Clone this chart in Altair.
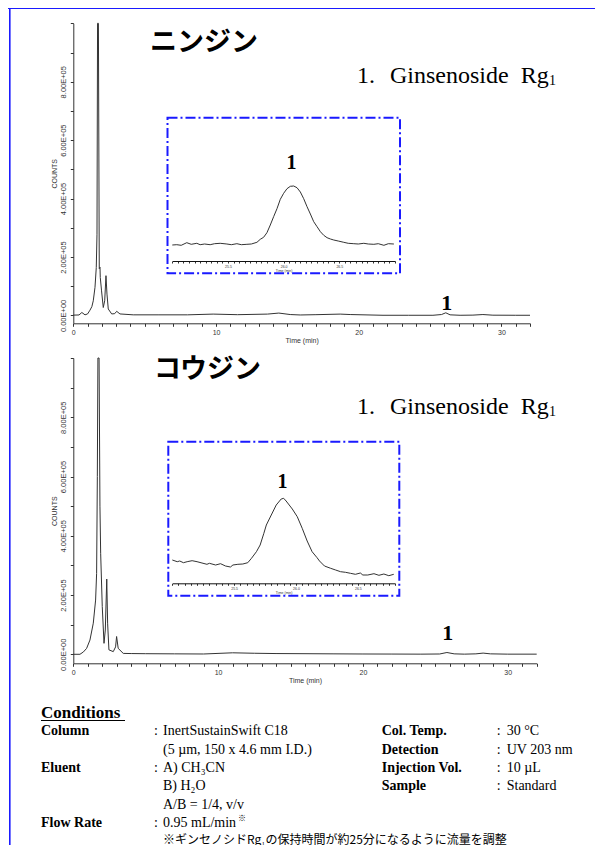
import altair as alt
import pandas as pd

# ---------------- data ----------------
# Chromatogram 1 : ニンジン  (time in min, counts)
top_time = [0.0, 0.4, 0.6, 0.82, 1.0, 1.17, 1.3, 1.4, 1.52, 1.61, 1.66, 1.70, 1.76, 1.82, 1.87,
            1.89, 1.98, 2.10, 2.20, 2.29, 2.36, 2.45, 2.69, 2.9, 3.04, 3.27, 4.2, 6.0, 8.0, 9.8,
            11.5, 13.6, 14.4, 15.2, 15.9, 17.0, 18.7, 19.4, 21.7, 23.5, 25.2, 25.8, 26.1, 26.4,
            27.1, 28.0, 28.7, 29.4, 31.0, 32.0]
top_counts = [1000, 1500, 10000, 2000, 5000, 18000, 30000, 50000, 96000, 164000, 278000, 1000000,
              1000000, 160000, 165000, 130000, 84000, 27000, 50000, 136000, 73000, 22000, 5000,
              6000, 14000, 5000, 2000, 2000, 2000, 4500, 2500, 4500, 8000, 3000, 1500, 2500, 4500,
              3000, 500, 500, 500, 3000, 9000, 2000, 500, 1000, 3000, 800, 500, 500]

# Inset 1 (zoom on peak 1, relative signal)
ins1_time = [25.00, 25.04, 25.08, 25.13, 25.17, 25.22, 25.25, 25.29, 25.34, 25.38, 25.43, 25.49,
             25.53, 25.58, 25.62, 25.67, 25.71, 25.76, 25.79, 25.82, 25.85, 25.88, 25.91, 25.94,
             25.97, 26.00, 26.03, 26.06, 26.09, 26.12, 26.15, 26.18, 26.21, 26.24, 26.27, 26.30,
             26.33, 26.36, 26.39, 26.42, 26.45, 26.49, 26.54, 26.58, 26.63, 26.67, 26.72, 26.76,
             26.81, 26.85, 26.90, 26.94, 26.99]
ins1_signal = [16.0, 16.3, 15.7, 18.3, 16.7, 17.7, 16.3, 17.0, 16.3, 17.3, 17.7, 17.0, 16.3, 17.3,
               16.3, 16.7, 17.0, 18.7, 21.7, 23.7, 28.3, 36.0, 44.3, 52.3, 61.7, 67.7, 72.3, 74.7,
               75.0, 73.3, 69.0, 62.3, 54.3, 47.0, 39.3, 34.3, 29.3, 25.7, 23.3, 22.0, 21.0, 20.0,
               18.7, 17.7, 17.3, 17.0, 17.7, 17.0, 16.7, 17.3, 15.7, 17.3, 17.0]

# Chromatogram 2 : コウジン
bot_time = [0.0, 0.46, 0.7, 0.92, 1.15, 1.38, 1.54, 1.61, 1.66, 1.70, 1.78, 1.84, 1.89, 2.0, 2.12,
            2.21, 2.31, 2.37, 2.46, 2.76, 2.92, 2.99, 3.1, 3.45, 4.0, 5.0, 7.0, 9.0, 11.0, 12.5,
            14.0, 16.0, 18.0, 20.0, 22.0, 24.0, 25.3, 25.8, 26.3, 27.0, 27.8, 28.3, 28.8, 30.0, 32.0]
bot_counts = [0, 0, 8000, 20000, 48000, 105000, 183000, 273000, 600000, 1000000, 1000000, 500000,
              341000, 161000, 37000, 82000, 254000, 105000, 15000, 9000, 25000, 60000, 20000, 3000,
              2500, 2000, 1500, 1000, 5000, 3500, 2500, 2000, 1500, 1000, 800, 500, 1000, 6000,
              1500, 500, 1500, 4000, 1500, 500, 500]

# Inset 2
ins2_time = [25.00, 25.04, 25.06, 25.09, 25.12, 25.16, 25.20, 25.24, 25.28, 25.30, 25.35, 25.39,
             25.43, 25.47, 25.49, 25.53, 25.57, 25.61, 25.64, 25.68, 25.71, 25.74, 25.76, 25.80,
             25.84, 25.88, 25.90, 25.92, 25.97, 26.01, 26.05, 26.09, 26.13, 26.17, 26.19, 26.23,
             26.28, 26.32, 26.36, 26.40, 26.44, 26.48, 26.52, 26.54, 26.58, 26.63, 26.67, 26.71,
             26.75, 26.79]
ins2_signal = [23.3, 21.6, 22.3, 20.6, 21.6, 22.6, 21.6, 20.3, 19.0, 20.0, 18.3, 19.6, 17.3, 16.3,
               18.3, 19.0, 19.3, 20.6, 25.0, 31.6, 38.3, 50.0, 58.3, 68.3, 78.3, 84.3, 85.0, 82.3,
               74.3, 66.6, 55.0, 42.3, 31.6, 25.6, 22.3, 17.3, 15.0, 13.3, 11.6, 11.0, 10.0, 9.0,
               10.3, 8.3, 8.3, 9.6, 8.0, 9.3, 7.6, 9.0]

# peak "1" labels (placed in data coordinates)
peak_text = ["1"]
top_peak_time, top_peak_counts = [26.17], [42500]
bot_peak_time, bot_peak_counts = [25.86], [70900]
ins1_peak_time, ins1_peak_signal = [26.07], [98]
ins2_peak_time, ins2_peak_signal = [25.89], [101.6]

# axis tick values / labels
main_x_ticks = list(range(0, 33))
main_y_ticks = [i * 100000 for i in range(11)]
ins1_ticks = [round(25.0 + 0.05 * i, 2) for i in range(41)]
ins2_ticks = [round(25.0 + 0.05 * i, 2) for i in range(37)]

# texts
titles = ["ニンジン", "コウジン"]
compound = ["1.", "Ginsenoside\u00a0\u00a0Rg", "1"]

cond_left_labels = ["Column", "Eluent", "Flow Rate"]
cond_left_label_rows = [0, 2, 5]
cond_left_values = ["InertSustainSwift C18", "(5 µm, 150 x 4.6 mm I.D.)", "A) CH₃CN",
                    "B) H₂O", "A/B = 1/4, v/v", "0.95 mL/min"]
cond_left_value_rows = [0, 1, 2, 3, 4, 5]
cond_right_labels = ["Col. Temp.", "Detection", "Injection Vol.", "Sample"]
cond_right_values = ["30 °C", "UV 203 nm", "10 µL", "Standard"]
cond_right_rows = [0, 1, 2, 3]
cond_note = "※ギンセノシドRg₁の保持時間が約25分になるように流量を調整"

# ---------------- styling / layout ----------------
W, H = 587, 837
SANS = "Liberation Sans"
SERIF = "Liberation Serif"
JP = "Noto Sans CJK JP"
INK = "#333333"
BLUE = "#1a1aff"
one = pd.DataFrame({"k": [0]})


def lin(domain, rng):
    return alt.Scale(type="linear", domain=domain, range=rng, nice=False, zero=False)


TOP_X = lin([0, 32], [65.3, 522])
TOP_Y = lin([-27000, 1000000], [315.3, 15.3])
BOT_X = lin([0, 32], [65.3, 528.7])
BOT_Y = lin([-30400, 1000000], [655.3, 350])
INS1_X = lin([25.0, 27.0], [164.3, 387])
INS1_Y = lin([0, 100], [253, 153])
INS2_X = lin([25.0, 26.8], [164.3, 387])
INS2_Y = lin([0, 100], [575.3, 475.3])
ROW_Y = lin([0, 6], [723.2, 833.2])


def main_x_axis(offset):
    return alt.Axis(orient="bottom", offset=offset, values=main_x_ticks,
                    labelExpr="datum.value % 10 == 0 ? datum.label : ''",
                    tickSize=3, tickColor=INK, domainColor=INK, grid=False,
                    labelFont=SANS, labelFontSize=7, labelColor=INK, labelPadding=2,
                    labelOverlap=False, labelFlush=False,
                    title="Time (min)", titleFont=SANS, titleFontSize=7,
                    titleFontWeight="normal", titleColor=INK, titlePadding=1)


def main_y_axis():
    return alt.Axis(orient="left", offset=-65.3, values=main_y_ticks,
                    labelExpr="datum.value < 1000000 && datum.value % 200000 == 0 ? "
                              "(datum.value == 0 ? '0.00E+00' : format(datum.value / 100000, '.2f') + 'E+05') : ''",
                    tickSize=3, tickColor=INK, domainColor=INK, grid=False,
                    labelFont=SANS, labelFontSize=7.5, labelColor=INK, labelPadding=3,
                    labelAngle=270, labelAlign="center", labelBaseline="bottom",
                    labelOverlap=False,
                    title="COUNTS", titleFont=SANS, titleFontSize=7,
                    titleFontWeight="normal", titleColor=INK, titlePadding=2)


def inset_x_axis(offset, ticks):
    return alt.Axis(orient="bottom", offset=offset, values=ticks,
                    labelExpr="indexof([25.5, 26, 26.5], datum.value) >= 0 ? format(datum.value, '.1f') : ''",
                    tickSize=2, tickColor=INK, domainColor="#111", grid=False,
                    labelFont=SANS, labelFontSize=3.5, labelColor=INK, labelPadding=1,
                    labelOverlap=False, labelFlush=False,
                    title="Time (min)", titleFont=SANS, titleFontSize=3.5,
                    titleFontWeight="normal", titleColor=INK, titlePadding=0.5)


def trace(t, v, xs, ys, xaxis, yaxis, width=1.0):
    df = pd.DataFrame({"t": t, "v": v})
    return alt.Chart(df).mark_line(color=INK, strokeWidth=width).encode(
        x=alt.X("t:Q", scale=xs, axis=xaxis),
        y=alt.Y("v:Q", scale=ys, axis=yaxis),
    )


def peak(t, v, xs, ys, size):
    df = pd.DataFrame({"t": t, "v": v, "lab": peak_text})
    return alt.Chart(df).mark_text(font=SERIF, fontWeight="bold", fontSize=size,
                                   color="black", baseline="middle").encode(
        x=alt.X("t:Q", scale=xs, axis=None),
        y=alt.Y("v:Q", scale=ys, axis=None),
        text="lab:N",
    )


def label(txt, x, y, **kw):
    return alt.Chart(one).mark_text(text=txt, align="left", baseline="middle",
                                    color="black", **kw).encode(x=alt.value(x), y=alt.value(y))


def box(x1, x2, y1, y2):
    return alt.Chart(one).mark_rect(fillOpacity=0, stroke=BLUE, strokeWidth=2,
                                    strokeDash=[10, 3, 2, 3]).encode(
        x=alt.value(x1), x2=alt.value(x2), y=alt.value(y1), y2=alt.value(y2))


def rows_text(texts, rows, x, **kw):
    df = pd.DataFrame({"txt": texts, "row": rows})
    return alt.Chart(df).mark_text(align="left", baseline="middle", color="black", **kw).encode(
        x=alt.value(x),
        y=alt.Y("row:Q", scale=ROW_Y, axis=None),
        text="txt:N",
    )


layers = []
# frame
layers.append(alt.Chart(one).mark_rule(color=BLUE, strokeWidth=1.6).encode(
    x=alt.value(1.8), y=alt.value(0), y2=alt.value(H)))
layers.append(alt.Chart(one).mark_rule(color=BLUE, strokeWidth=2).encode(
    x=alt.value(0), x2=alt.value(W), y=alt.value(0)))

# chromatogram 1
layers.append(trace(top_time, top_counts, TOP_X, TOP_Y, main_x_axis(315.3 - H), main_y_axis()))
layers.append(peak(top_peak_time, top_peak_counts, TOP_X, TOP_Y, 22))
layers.append(box(159.5, 392, 109.7, 265.3))
layers.append(trace(ins1_time, ins1_signal, INS1_X, INS1_Y, inset_x_axis(253 - H, ins1_ticks), None))
layers.append(peak(ins1_peak_time, ins1_peak_signal, INS1_X, INS1_Y, 20))
layers.append(label(titles[0], 142, 35, font=JP, fontWeight="bold", fontSize=27))
layers.append(label(compound[0], 349, 68, font=SERIF, fontSize=24))
layers.append(label(compound[1], 382, 68, font=SERIF, fontSize=24))
layers.append(label(compound[2], 541, 73, font=SERIF, fontSize=14))

# chromatogram 2
layers.append(trace(bot_time, bot_counts, BOT_X, BOT_Y, main_x_axis(655.3 - H), main_y_axis()))
layers.append(peak(bot_peak_time, bot_peak_counts, BOT_X, BOT_Y, 22))
layers.append(box(160.3, 391.3, 433.7, 587.7))
layers.append(trace(ins2_time, ins2_signal, INS2_X, INS2_Y, inset_x_axis(575.3 - H, ins2_ticks), None))
layers.append(peak(ins2_peak_time, ins2_peak_signal, INS2_X, INS2_Y, 20))
layers.append(label(titles[1], 146, 362, font=JP, fontWeight="bold", fontSize=27))
layers.append(label(compound[0], 349, 398.7, font=SERIF, fontSize=24))
layers.append(label(compound[1], 382, 398.7, font=SERIF, fontSize=24))
layers.append(label(compound[2], 541, 403.7, font=SERIF, fontSize=14))

# conditions
layers.append(label("Conditions", 33, 705, font=SERIF, fontWeight="bold", fontSize=17))
layers.append(alt.Chart(one).mark_rule(color="black", strokeWidth=1).encode(
    x=alt.value(33), x2=alt.value(117), y=alt.value(712.5)))
layers.append(rows_text(cond_left_labels, cond_left_label_rows, 33, font=SERIF, fontWeight="bold", fontSize=14))
layers.append(rows_text([":"] * 3, cond_left_label_rows, 146, font=SERIF, fontSize=14))
layers.append(rows_text(cond_left_values, cond_left_value_rows, 155, font=SERIF, fontSize=14))
layers.append(label("※", 230, 811, font=JP, fontSize=8))
layers.append(label(cond_note, 155, 831.5, font=JP, fontSize=12))
layers.append(rows_text(cond_right_labels, cond_right_rows, 373.7, font=SERIF, fontWeight="bold", fontSize=14))
layers.append(rows_text([":"] * 4, cond_right_rows, 488.7, font=SERIF, fontSize=14))
layers.append(rows_text(cond_right_values, cond_right_rows, 498.7, font=SERIF, fontSize=14))

chart = alt.layer(*layers).resolve_scale(x="independent", y="independent").properties(
    width=W, height=H, autosize=alt.AutoSizeParams(type="none"), padding=0
).configure_view(stroke=None)

chart.save("out.html", embed_options={"renderer": "svg", "actions": False})
